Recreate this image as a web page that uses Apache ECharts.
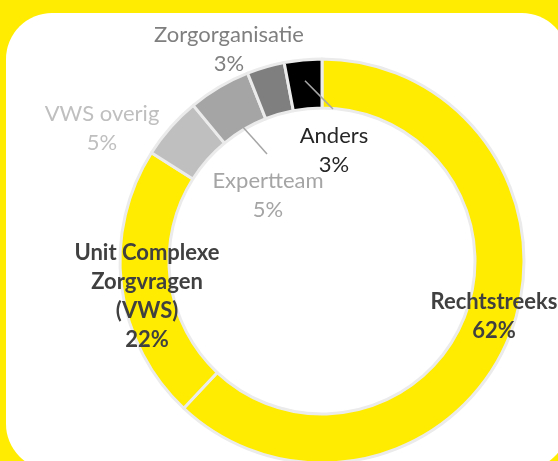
<!DOCTYPE html>
<html>
<head>
<meta charset="utf-8">
<script src="https://cdn.jsdelivr.net/npm/echarts@6/dist/echarts.min.js"></script>
<style>
  html, body { margin: 0; padding: 0; }
  #myChart { width: 558px; height: 461px; }
</style>
</head>
<body>
<div id="myChart"></div>
<script>
// data (clockwise from 12 o'clock)
var names = ['Rechtstreeks', 'Unit Complexe\nZorgvragen\n(VWS)', 'VWS overig', 'Expertteam', 'Zorgorganisatie', 'Anders']
var values = [62, 22, 5, 5, 3, 3]
var colors = ['#FFEC00', '#FFEC00', '#BFBFBF', '#A5A5A5', '#7F7F7F', '#000000']
var labelColors = ['#404040', '#404040', '#BFBFBF', '#A5A5A5', '#7F7F7F', '#262626']
var boldLabels = [true, true, false, false, false, false]

// label placement (centre of each label block) and leader lines
var center = [322, 261]
var radius = [153, 202]
var labelPos = [[494, 316], [147, 296], [102, 128], [268, 195], [229, 49], [334, 150]]
var leaderStartR = [null, null, null, 156, null, 181]

var total = values.reduce(function (a, b) { return a + b }, 0)

function midAngle (idx) {
  var before = 0
  for (var i = 0; i < idx; i++) before += values[i]
  return (before + values[idx] / 2) / total * Math.PI * 2
}

var ringData = names.map(function (name, i) {
  return { name: name, value: values[i], itemStyle: { color: colors[i] } }
})

// same slices again, transparent, so labels and leader lines sit on top of the ring
var labelData = names.map(function (name, i) {
  return {
    name: name,
    value: values[i],
    label: {
      color: labelColors[i],
      fontWeight: boldLabels[i] ? 'bold' : 'normal'
    },
    labelLine: { show: leaderStartR[i] != null }
  }
})

var myChart = echarts.init(document.getElementById('myChart'))

myChart.setOption({
  backgroundColor: '#FFEC00',
  animation: false,
  graphic: [{
    type: 'rect',
    z: -10,
    silent: true,
    shape: { x: 6, y: 13, width: 562, height: 457, r: 46 },
    style: { fill: '#FFFFFF' }
  }],
  series: [{
    type: 'pie',
    center: center,
    radius: radius,
    startAngle: 90,
    clockwise: true,
    silent: true,
    itemStyle: {
      borderColor: '#EBEBEB',
      borderWidth: 3
    },
    label: { show: false },
    labelLine: { show: false },
    data: ringData
  }, {
    type: 'pie',
    z: 5,
    center: center,
    radius: radius,
    startAngle: 90,
    clockwise: true,
    silent: true,
    avoidLabelOverlap: false,
    itemStyle: { color: 'rgba(0,0,0,0)', borderWidth: 0 },
    label: {
      show: true,
      position: 'outside',
      fontFamily: 'Lato',
      fontSize: 22,
      lineHeight: 29,
      align: 'center',
      formatter: function (p) {
        return p.name + '\n' + p.value + '%'
      }
    },
    labelLine: {
      show: false,
      lineStyle: { color: '#A6A6A6', width: 1.5 }
    },
    labelLayout: function (params) {
      var i = params.dataIndex
      var pos = labelPos[i]
      var out = { x: pos[0], y: pos[1], align: 'center', verticalAlign: 'middle' }
      if (leaderStartR[i] != null) {
        var a = midAngle(i)
        var sx = center[0] + leaderStartR[i] * Math.sin(a - Math.PI * 2)
        var sy = center[1] - leaderStartR[i] * Math.cos(a - Math.PI * 2)
        var ex = pos[0] - 1
        var ey = pos[1] - params.labelRect.height / 2 - 12
        out.labelLinePoints = [[sx, sy], [(sx + ex) / 2, (sy + ey) / 2], [ex, ey]]
      }
      return out
    },
    data: labelData
  }]
})
</script>
</body>
</html>
